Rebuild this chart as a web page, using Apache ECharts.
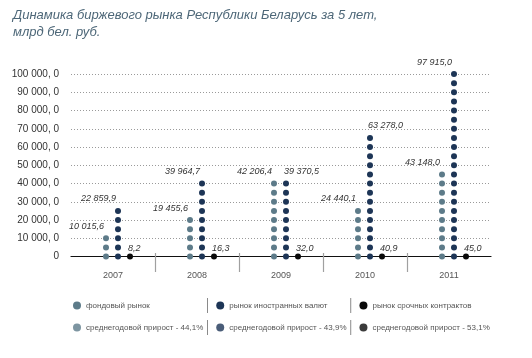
<!DOCTYPE html>
<html>
<head>
<meta charset="utf-8">
<script src="https://cdn.jsdelivr.net/npm/echarts@6/dist/echarts.min.js"></script>
<style>
html,body{margin:0;padding:0;background:#fff;}
#c{width:532px;height:358px;}
</style>
</head>
<body>
<div id="c"></div>
<script>
// ---- data ----
const years = ['2007', '2008', '2009', '2010', '2011'];
const stockMarket = [10015.6, 19455.6, 42206.4, 24440.1, 43148.0];      // фондовый рынок
const currencyMarket = [22859.9, 39964.7, 39370.5, 63278.0, 97915.0];   // рынок иностранных валют
const derivativesMarket = [8.2, 16.3, 32.0, 40.9, 45.0];                // рынок срочных контрактов
const seriesNames = ['фондовый рынок', 'рынок иностранных валют', 'рынок срочных контрактов'];
const growthRates = ['44,1%', '43,9%', '53,1%'];
const yTickLabels = ['0', '10 000, 0', '20 000, 0', '30 000, 0', '40 000, 0', '50 000, 0',
                     '60 000, 0', '70 000, 0', '80 000, 0', '90 000, 0', '100 000, 0'];
const dotStep = 5000; // one dot per 5 000

// ---- style / layout ----
const W = 532, H = 358;
const gridTop = 74, gridZeroY = 256.6, gridLeft = 71, gridRight = 491;
const colors = ['#5d7b89', '#1d3556', '#0a0a0a'];
const dotShift = [-7, 5, 17];
const FONT = "'Liberation Sans', Arial, sans-serif";
// label side per series / category (true = to the right of the column)
const labelRight = [
  [false, false, false, false, false],
  [false, false, true, true, false],
  [true, true, true, true, true]
];

function fmt(v) {
  const parts = v.toFixed(1).split('.');
  const int = parts[0].replace(/\B(?=(\d{3})+(?!\d))/g, ' ');
  return int + ',' + parts[1];
}

function dotSeries(idx, values) {
  const data = [];
  values.forEach((v, i) => {
    const n = Math.round(v / dotStep) + 1;
    for (let j = 0; j < n; j++) {
      const item = { value: [i, j * dotStep], src: v };
      if (j === n - 1) {
        const right = labelRight[idx][i];
        item.label = {
          show: true,
          position: 'top',
          distance: idx === 2 ? 0.5 : 4.5,
          align: right ? 'left' : 'right',
          offset: [-2, 0]
        };
      }
      data.push(item);
    }
  });
  return {
    name: seriesNames[idx],
    type: 'scatter',
    symbol: 'circle',
    symbolSize: 6,
    symbolOffset: [dotShift[idx], 0],
    itemStyle: { color: colors[idx], opacity: 1 },
    z: 5,
    label: {
      show: false,
      formatter: (p) => fmt(p.data.src),
      fontFamily: FONT,
      fontStyle: 'italic',
      fontSize: 9,
      color: '#333'
    },
    data: data
  };
}

const chart = echarts.init(document.getElementById('c'), null, { renderer: 'canvas' });

const dummySeries = growthRates.map((g, i) => ({
  name: 'среднегодовой прирост - ' + g,
  type: 'scatter',
  data: [],
  itemStyle: { color: colors[i] }
}));

function legendFormatter(names) {
  return function (name) {
    const i = names.indexOf(name);
    return i < names.length - 1 ? '{n|' + name + '}{s| }' : '{n|' + name + '}';
  };
}
const legendText = {
  fontFamily: FONT,
  fontSize: 8,
  color: '#555',
  rich: {
    n: { width: 121, fontFamily: FONT, fontSize: 8, color: '#555' },
    s: { width: 1, height: 15, backgroundColor: '#8a8a8a' }
  }
};
const row1 = seriesNames.slice();
const row2 = dummySeries.map(s => s.name);

chart.setOption({
  animation: false,
  backgroundColor: '#fff',
  title: {
    text: 'Динамика биржевого рынка Республики Беларусь за 5 лет,\nмлрд бел. руб.',
    left: 8,
    top: 2,
    textStyle: {
      fontFamily: FONT,
      fontStyle: 'italic',
      fontWeight: 'normal',
      fontSize: 13,
      lineHeight: 17,
      color: '#4d6778'
    }
  },
  legend: [
    {
      data: row1, left: 68, top: 293, width: 460, icon: 'circle', itemWidth: 8, itemHeight: 8, itemGap: 7,
      selectedMode: false, formatter: legendFormatter(row1), textStyle: legendText
    },
    {
      data: row2, left: 68, top: 315, width: 460, icon: 'circle', itemWidth: 8, itemHeight: 8, itemGap: 7,
      selectedMode: false, formatter: legendFormatter(row2), textStyle: legendText
    }
  ],
  grid: { left: gridLeft, right: W - gridRight, top: gridTop, bottom: H - gridZeroY, containLabel: false },
  xAxis: [
    {
      type: 'category',
      data: years,
      position: 'bottom',
      offset: 5.4,
      axisLine: { lineStyle: { color: '#111', width: 1.2 } },
      axisTick: { show: false },
      axisLabel: { fontFamily: FONT, fontSize: 9, color: '#555', margin: 9 }
    },
    {
      type: 'category',
      data: ['', '', '', '', '', '', '', '', '', '', ''],
      position: 'bottom',
      boundaryGap: false,
      offset: 15.4,
      axisLine: { show: false },
      axisLabel: { show: false },
      axisTick: {
        show: true, inside: true, length: 19,
        interval: (i) => i === 2 || i === 4 || i === 6 || i === 8,
        lineStyle: { color: '#a0a0a0', width: 1.2 }
      }
    }
  ],
  yAxis: {
    type: 'value',
    min: 0,
    max: 100000,
    interval: 10000,
    axisLine: { show: false },
    axisTick: { show: false },
    splitLine: { show: true, showMinLine: false, lineStyle: { type: [1, 2], color: '#9a9a9a', width: 1 } },
    axisLabel: {
      margin: 12,
      fontFamily: FONT,
      fontSize: 10,
      color: '#333',
      padding: [0, 0, 6, 0],
      formatter: (v) => yTickLabels[Math.round(v / 10000)]
    }
  },
  series: [
    dotSeries(0, stockMarket),
    dotSeries(1, currencyMarket),
    dotSeries(2, derivativesMarket)
  ].concat(dummySeries)
});
</script>
</body>
</html>
